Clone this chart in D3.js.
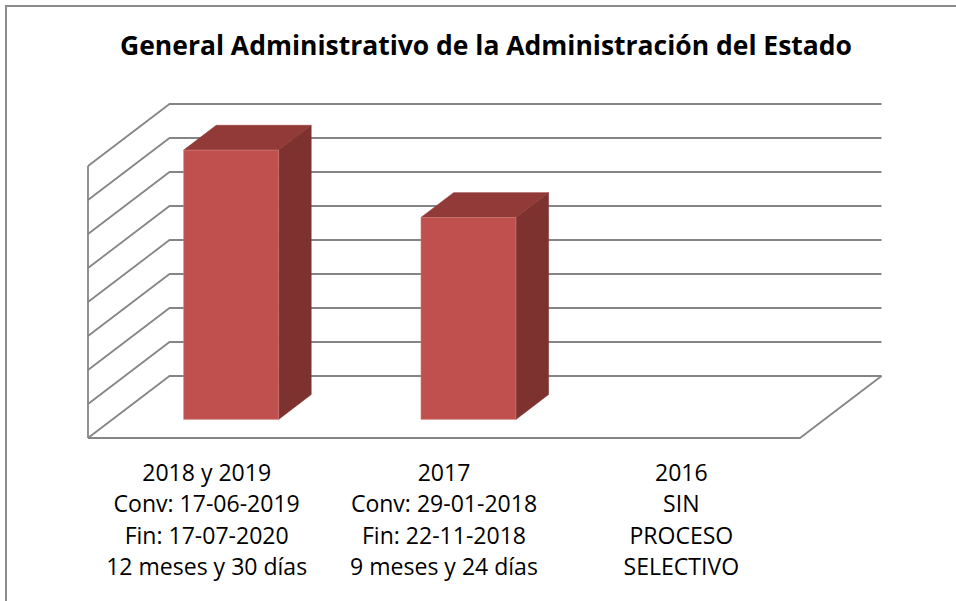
<!DOCTYPE html>
<html><head><meta charset="utf-8">
<script src="https://cdn.jsdelivr.net/npm/d3@7"></script>
<style>body{margin:0;background:#fff}svg{display:block}</style>
</head><body>
<svg id="c" width="956" height="601"></svg>
<script>
const title = "General Administrativo de la Administración del Estado";
const categories = ["2018 y 2019", "2017", "2016"];
const categoryLines = [
  ["2018 y 2019", "Conv: 17-06-2019", "Fin: 17-07-2020", "12 meses y 30 días"],
  ["2017", "Conv: 29-01-2018", "Fin: 22-11-2018", "9 meses y 24 días"],
  ["2016", "SIN", "PROCESO", "SELECTIVO"]
];
const durationDays = [396, 297, 0];
const tickValues = [0, 50, 100, 150, 200, 250, 300, 350, 400];

const svg = d3.select("#c");

// plot geometry (oblique 3D projection)
const depthDX = 81.5, depthDY = 62;
const frontLeft = 88, frontRight = 800;
const y = d3.scaleLinear().domain([0, 400]).range([376, 104]); // back wall
const x = d3.scaleBand().domain(categories).range([frontLeft, frontRight])
  .paddingInner(0.6).paddingOuter(0.3);
const P = (xf, v, d) => [xf + depthDX * d, y(v) + depthDY * (1 - d)];

// outer border
svg.append("rect").attr("x", 6).attr("y", 6).attr("width", 980).attr("height", 620)
  .attr("fill", "#fff").attr("stroke", "#8c8c8c").attr("stroke-width", 2);

// title
const t = svg.append("text").attr("x", 486).attr("y", 55).attr("text-anchor", "middle")
  .attr("font-family", "'Open Sans', sans-serif").attr("font-weight", "bold")
  .attr("font-size", 26).attr("fill", "#000").text(title);
t.attr("textLength", 732).attr("lengthAdjust", "spacingAndGlyphs");

const grid = svg.append("g").attr("fill", "none").attr("stroke", "#858585")
  .attr("stroke-width", 1.8).attr("stroke-linejoin", "round");
const line = d3.line();
// back wall + left wall gridlines
tickValues.forEach(v => {
  grid.append("path").attr("d", line([P(frontLeft, v, 0), P(frontLeft, v, 1), P(frontRight, v, 1)]));
});
// left wall front edge
grid.append("path").attr("d", line([P(frontLeft, 400, 0), P(frontLeft, 0, 0)]));
// floor
grid.append("path").attr("d", line([P(frontLeft, 0, 0), P(frontRight, 0, 0), P(frontRight, 0, 1)]));

// bars
const bars = svg.append("g");
const d0 = 0.3, d1 = 0.7;
categories.forEach((c, i) => {
  const v = durationDays[i];
  if (!v) return;
  const xl = x(c), xr = x(c) + x.bandwidth();
  const g = bars.append("g").attr("stroke-linejoin", "round");
  g.append("path").attr("d", line([P(xr, 0, d0), P(xr, 0, d1), P(xr, v, d1), P(xr, v, d0)]) + "Z")
    .attr("fill", "#7d3230").attr("stroke", "#7d3230").attr("stroke-width", 0.6);
  g.append("path").attr("d", line([P(xl, v, d0), P(xl, v, d1), P(xr, v, d1), P(xr, v, d0)]) + "Z")
    .attr("fill", "#913a38").attr("stroke", "#913a38").attr("stroke-width", 0.6);
  const [fx, fy] = P(xl, v, d0);
  const [, by] = P(xl, 0, d0);
  g.append("rect").attr("x", fx).attr("y", fy).attr("width", x.bandwidth()).attr("height", by - fy)
    .attr("fill", "#c0504d").attr("stroke", "#d47f7c").attr("stroke-width", 0.6);
});

// category labels
const lab = svg.append("g").attr("font-family", "'Open Sans', sans-serif")
  .attr("font-size", 23.5).attr("fill", "#000").attr("text-anchor", "middle");
const nodes = [];
categories.forEach((c, i) => {
  const cx = x(c) + x.bandwidth() / 2;
  categoryLines[i].forEach((s, j) => {
    const tx = lab.append("text").attr("x", cx).attr("y", 481 + j * 31.4).text(s);
    nodes.push(tx);
  });
});
// calibrate width so the longest first-column line spans ~201px like the reference face
const ref = nodes[3].node().getComputedTextLength();
const k = 201 / ref;
nodes.forEach(tx => {
  const n = tx.node().getComputedTextLength();
  tx.attr("textLength", n * k).attr("lengthAdjust", "spacingAndGlyphs");
});
</script>
</body></html>
